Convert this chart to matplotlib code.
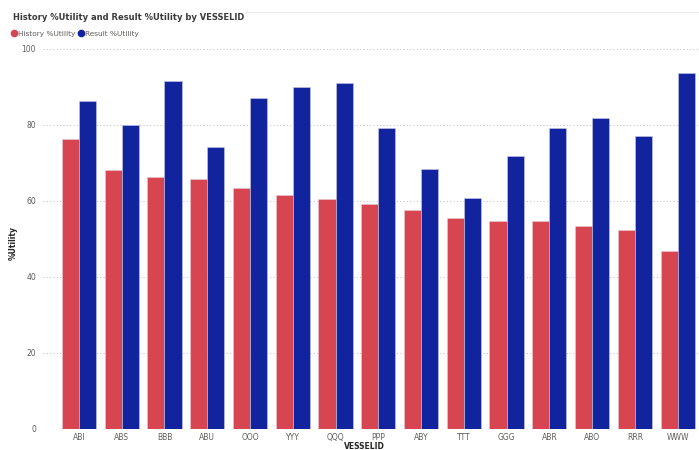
import numpy as np
import matplotlib.pyplot as plt
from matplotlib.lines import Line2D

# values
vessels = ['ABI', 'ABS', 'BBB', 'ABU', 'OOO', 'YYY', 'QQQ', 'PPP',
           'ABY', 'TTT', 'GGG', 'ABR', 'ABO', 'RRR', 'WWW']
history_util = [76.4, 68.2, 66.3, 65.7, 63.3, 61.5, 60.4, 59.3,
                57.5, 55.6, 54.7, 54.7, 53.5, 52.3, 46.8]
result_util = [86.2, 79.9, 91.5, 74.2, 87.2, 89.9, 91.1, 79.3,
               68.3, 60.9, 71.8, 79.1, 81.8, 77.1, 93.7]
y_ticks = [0, 20, 40, 60, 80, 100]

red = '#D64550'
blue = '#12239E'
grey_text = '#605E5C'
dark_text = '#252423'

W, H = 699, 450
fig = plt.figure(figsize=(W / 100, H / 100), dpi=100)
fig.patch.set_facecolor('white')

# axes placed in pixel terms
left, right, bottom, top = 43, 699, 429, 49
ax = fig.add_axes([left / W, 1 - bottom / H, (right - left) / W, (bottom - top) / H])

x = np.arange(len(vessels))
bw = 0.4
ax.bar(x - bw / 2, history_util, bw, color=red, edgecolor='#E9C9D3', linewidth=0.4, zorder=3)
ax.bar(x + bw / 2, result_util, bw, color=blue, edgecolor='#C9CBE8', linewidth=0.4, zorder=3)

ax.set_xlim(-0.84, len(vessels) - 0.5)
ax.set_ylim(0, 100)
ax.set_yticks(y_ticks)
ax.set_xticks(x)
ax.set_xticklabels(vessels)

for sp in ax.spines.values():
    sp.set_visible(False)
ax.tick_params(axis='y', length=0, labelsize=5.5, labelcolor=grey_text, pad=5)
ax.tick_params(axis='x', length=0, labelsize=5.5, labelcolor=grey_text, pad=3)
ax.yaxis.grid(True, linestyle=(0, (1, 2)), color='#C8C8C8', linewidth=0.8, zorder=0)
ax.set_axisbelow(True)
# the zero line is dotted too
ax.axhline(0, linestyle=(0, (1, 2)), color='#C8C8C8', linewidth=0.8, zorder=0)

ax.set_ylabel('%Utility', fontsize=5.5, color=dark_text, fontweight='bold')
ax.yaxis.set_label_coords(-25 / (right - left), 0.49)
ax.set_xlabel('VESSELID', fontsize=5.5, color=dark_text, fontweight='bold')
ax.xaxis.set_label_coords(0.49, -13 / (bottom - top))

fig.text(13 / W, 1 - 17 / H, 'History %Utility and Result %Utility by VESSELID',
         fontsize=6.0, fontweight='bold', color='#3A3A3A', va='center', ha='left')

# legend like Power BI: dots and labels in a row
handles = [Line2D([], [], marker='o', linestyle='', color=red, markersize=4.5),
           Line2D([], [], marker='o', linestyle='', color=blue, markersize=4.5)]
fig.legend(handles, ['History %Utility', 'Result %Utility'], loc='center left',
           bbox_to_anchor=(8 / W, 1 - 34 / H), ncol=2, frameon=False,
           fontsize=5.3, handletextpad=0.2, columnspacing=0.3, handlelength=0.8,
           labelcolor=grey_text, borderaxespad=0)

# faint header line at the top right
fig.add_artist(Line2D([245 / W, 1], [1 - 12 / H, 1 - 12 / H], color='#EBEBEB', linewidth=0.8))

fig.savefig('out.png', dpi=100, facecolor='white')
